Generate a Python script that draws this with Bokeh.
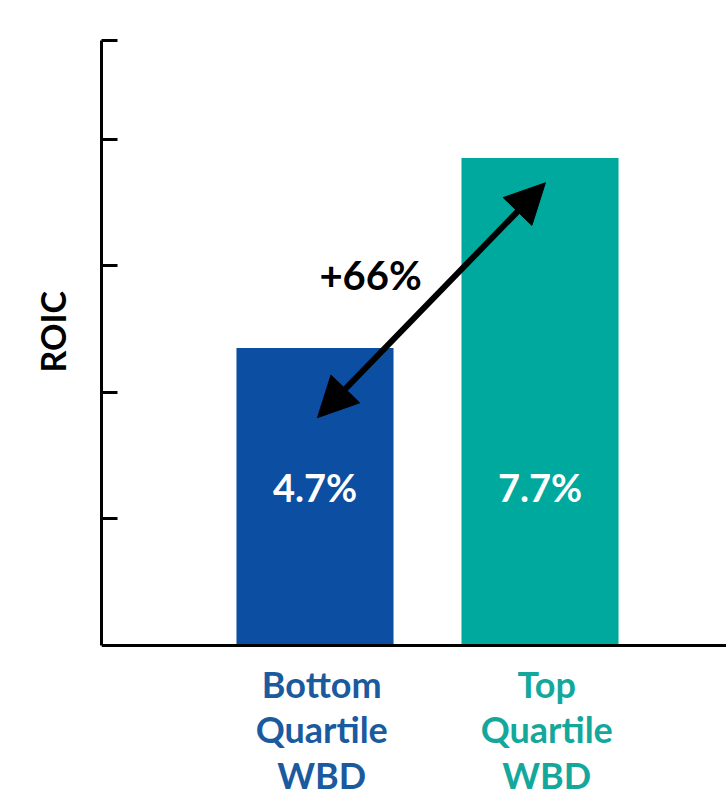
from bokeh.plotting import figure
from bokeh.models import Range1d, FixedTicker, Span, Arrow, NormalHead, Title
from bokeh.core.properties import value
from bokeh.embed import file_html
from bokeh.resources import INLINE

# ---- data ----
categories = ["Bottom\nQuartile\nWBD", "Top\nQuartile\nWBD"]
positions = [1, 2]
roic = [4.7, 7.7]
value_labels = ["4.7%", "7.7%"]
bar_colors = ["#0B4EA2", "#00A99D"]
label_colors = ["#1A5A9E", "#14A89C"]
ytick_values = [2, 4, 6, 8, 9.56]
change_label = "+66%"
axis_title = "ROIC"

FONT = "Lato"

p = figure(width=726, height=798, output_backend="svg", toolbar_location=None,
           x_range=Range1d(0.0511, 2.8289), y_range=Range1d(-2.417, 10.19),
           min_border_left=101, min_border_right=0, min_border_top=0, min_border_bottom=0)
p.outline_line_color = None
p.grid.visible = False
p.background_fill_color = "white"
p.border_fill_color = "white"
p.xaxis.visible = False

ya = p.yaxis[0]
ya.ticker = FixedTicker(ticks=ytick_values)
ya.bounds = (0, ytick_values[-1])
ya.major_tick_in = 16
ya.major_tick_out = 0
ya.minor_tick_line_color = None
ya.major_label_text_font_size = "0px"
ya.major_label_text_alpha = 0
ya.axis_line_width = 3
ya.major_tick_line_width = 3
ya.axis_line_color = "black"
ya.major_tick_line_color = "black"

t = Title(text=axis_title, align="left", offset=426, standoff=57,
          text_font=FONT, text_font_style="bold", text_font_size="34px",
          text_color="black")
p.add_layout(t, "left")

p.vbar(x=positions, top=roic, bottom=0, width=0.698, color=bar_colors, line_color=None)

base = Span(location=0, dimension="width", line_color="black", line_width=3)
p.add_layout(base)

# value labels inside bars
p.text(x=positions, y=[2.5, 2.5], text=value_labels, text_color="white",
       text_font=value(FONT), text_font_style="bold", text_font_size="38px",
       text_align="center", text_baseline="middle")

# category labels below axis
p.text(x=[x + 0.03 for x in positions], y=[-0.26, -0.26], text=categories, text_color=label_colors,
       text_font=value(FONT), text_font_style="bold", text_font_size="36px",
       text_align="center", text_baseline="top", text_line_height=1.03)

# double-headed arrow between bars
arrow = Arrow(x_start=1.011, y_start=3.60, x_end=2.024, y_end=7.31,
              line_width=6, line_color="black",
              start=NormalHead(size=40, fill_color="black", line_color="black"),
              end=NormalHead(size=40, fill_color="black", line_color="black"))
p.add_layout(arrow)

p.text(x=[1.247], y=[5.86], text=[change_label], text_color="black",
       text_font=value(FONT), text_font_style="bold", text_font_size="40px",
       text_align="center", text_baseline="middle")

open("out.html", "w").write(file_html(p, INLINE))
